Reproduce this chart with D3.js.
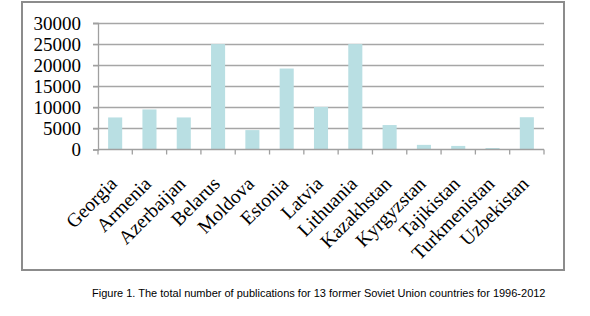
<!DOCTYPE html>
<html>
<head>
<meta charset="utf-8">
<script src="https://cdn.jsdelivr.net/npm/d3@7"></script>
<style>
  body { margin: 0; background: #fff; }
</style>
</head>
<body>
<div id="chart-area"></div>
<script>
const countries = ["Georgia", "Armenia", "Azerbaijan", "Belarus", "Moldova", "Estonia", "Latvia",
  "Lithuania", "Kazakhstan", "Kyrgyzstan", "Tajikistan", "Turkmenistan", "Uzbekistan"]
const publications = [7600, 9500, 7600, 25000, 4600, 19200, 10100, 25000, 5800, 1100, 850, 350, 7650]
const yTicks = [0, 5000, 10000, 15000, 20000, 25000, 30000]
const caption = "Figure 1. The total number of publications for 13 former Soviet Union countries for 1996-2012"

const WIDTH = 590
const HEIGHT = 316
const PLOT = { LEFT: 98, RIGHT: 544, TOP: 23, BOTTOM: 149.5 }

const svg = d3.select("#chart-area").append("svg")
  .attr("width", WIDTH)
  .attr("height", HEIGHT)

// chart frame
svg.append("rect")
  .attr("x", 22)
  .attr("y", 2)
  .attr("width", 542)
  .attr("height", 268)
  .attr("fill", "none")
  .attr("stroke", "#8c8c8c")
  .attr("stroke-width", 2)

const x = d3.scaleBand()
  .domain(countries)
  .range([PLOT.LEFT, PLOT.RIGHT])
  .paddingInner(0.59)
  .paddingOuter(0.295)

const y = d3.scaleLinear()
  .domain([0, 30000])
  .range([PLOT.BOTTOM, PLOT.TOP])

// gridlines
svg.append("g")
  .selectAll("line")
  .data(yTicks.filter(d => d > 0))
  .join("line")
    .attr("x1", PLOT.LEFT - 5)
    .attr("x2", PLOT.RIGHT)
    .attr("y1", d => Math.round(y(d)) + 0.5)
    .attr("y2", d => Math.round(y(d)) + 0.5)
    .attr("stroke", "#a6a6a6")
    .attr("stroke-width", 1.3)

// bars
svg.append("g")
  .selectAll("rect")
  .data(countries)
  .join("rect")
    .attr("x", d => x(d))
    .attr("width", x.bandwidth())
    .attr("y", (d, i) => y(publications[i]))
    .attr("height", (d, i) => y(0) - y(publications[i]))
    .attr("fill", "#b9dfe3")

// Y Axis
const yAxisCall = d3.axisLeft(y)
  .tickValues(yTicks)
  .tickSize(5)
  .tickPadding(12)
  .tickFormat(d3.format("d"))
const yAxis = svg.append("g")
  .attr("transform", `translate(${PLOT.LEFT}, 0)`)
  .call(yAxisCall)
yAxis.select(".domain").attr("stroke", "#a0a0a0").attr("stroke-width", 1.3)
yAxis.selectAll(".tick line").attr("stroke", "#a0a0a0").attr("stroke-width", 1.3)
yAxis.selectAll("text")
  .attr("font-family", "'Liberation Serif', 'Times New Roman', serif")
  .attr("font-size", "19px")
  .attr("fill", "#000")

// X Axis: category boundary ticks
const step = x.step()
const boundaries = d3.range(countries.length + 1).map(i => PLOT.LEFT + i * step)
svg.append("line")
  .attr("x1", PLOT.LEFT)
  .attr("x2", PLOT.RIGHT)
  .attr("y1", PLOT.BOTTOM)
  .attr("y2", PLOT.BOTTOM)
  .attr("stroke", "#a0a0a0")
  .attr("stroke-width", 1.3)
svg.append("g")
  .selectAll("line")
  .data(boundaries)
  .join("line")
    .attr("x1", d => d)
    .attr("x2", d => d)
    .attr("y1", PLOT.BOTTOM)
    .attr("y2", PLOT.BOTTOM + 5)
    .attr("stroke", "#a0a0a0")
    .attr("stroke-width", 1.3)

// category labels
svg.append("g")
  .selectAll("text")
  .data(countries)
  .join("text")
    .attr("transform", d => `translate(${x(d) + x.bandwidth() / 2 + 3}, 185) rotate(-45)`)
    .attr("text-anchor", "end")
    .attr("font-family", "'Liberation Serif', 'Times New Roman', serif")
    .attr("font-size", "19.5px")
    .attr("fill", "#000")
    .text(d => d)

// caption
svg.append("text")
  .attr("x", 92)
  .attr("y", 297)
  .attr("font-family", "'Liberation Sans', Arial, sans-serif")
  .attr("font-size", "11px")
  .attr("fill", "#000")
  .text(caption)
</script>
</body>
</html>
